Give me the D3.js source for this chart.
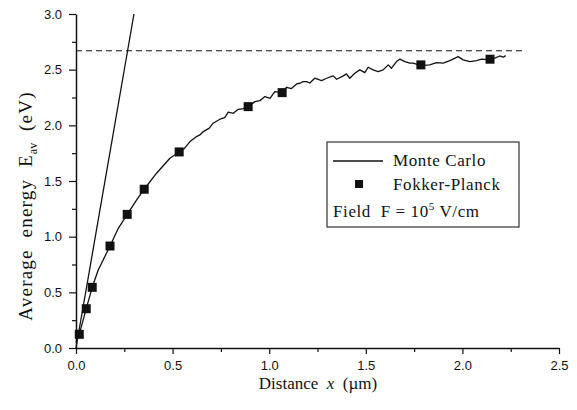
<!DOCTYPE html>
<html>
<head>
<meta charset="utf-8">
<script src="https://d3js.org/d3.v7.min.js"></script>
<style>
  body { margin: 0; background: #fff; }
  .tick text { font-family: "Liberation Sans", Arial, sans-serif; font-size: 13px; fill: #111; }
  .serif { font-family: "Liberation Serif", "Times New Roman", serif; fill: #111; white-space: pre; }
</style>
</head>
<body>
<div id="chart"></div>
<script>
  const width = 577
  const height = 410
  const margin = { left: 76, right: 18, top: 14, bottom: 62 }

  // Monte Carlo curve (x in µm, E in eV)
  const mcX = [0.0, 0.017, 0.053, 0.084, 0.115, 0.176, 0.219, 0.265, 0.314, 0.353,
    0.417, 0.486, 0.534, 0.560, 0.590, 0.624, 0.641, 0.659, 0.690, 0.710, 0.745, 0.770, 0.788, 0.814,
    0.840, 0.866, 0.891, 0.926, 0.952, 0.978, 1.004, 1.029, 1.067, 1.090, 1.115, 1.142, 1.159, 1.176,
    1.193, 1.210, 1.236, 1.271, 1.297, 1.331, 1.349, 1.383, 1.400, 1.417, 1.443, 1.469, 1.495,
    1.512, 1.538, 1.564, 1.590, 1.616, 1.633, 1.659, 1.676, 1.702, 1.728, 1.745, 1.786, 1.831,
    1.866, 1.900, 1.935, 1.978, 2.004, 2.038, 2.073, 2.099, 2.142, 2.168, 2.193, 2.211, 2.224]
  const mcY = [0.05, 0.123, 0.353, 0.545, 0.70, 0.916, 1.075, 1.20, 1.33, 1.426,
    1.57, 1.704, 1.761, 1.79, 1.854, 1.899, 1.914, 1.944, 1.975, 2.019, 2.055, 2.07, 2.118, 2.108,
    2.144, 2.15, 2.168, 2.213, 2.222, 2.258, 2.243, 2.303, 2.294, 2.342, 2.33, 2.372, 2.378, 2.393,
    2.393, 2.38, 2.423, 2.402, 2.423, 2.444, 2.414, 2.444, 2.462, 2.423, 2.468, 2.498, 2.473,
    2.522, 2.498, 2.483, 2.498, 2.543, 2.513, 2.573, 2.594, 2.573, 2.558, 2.558, 2.537, 2.543,
    2.563, 2.558, 2.582, 2.617, 2.588, 2.573, 2.582, 2.594, 2.588, 2.603, 2.623, 2.612, 2.626]

  // Fokker-Planck points
  const fpX = [0.017, 0.053, 0.084, 0.176, 0.265, 0.353, 0.534, 0.891, 1.067, 1.785, 2.143]
  const fpY = [0.123, 0.353, 0.545, 0.916, 1.20, 1.426, 1.761, 2.168, 2.294, 2.543, 2.594]

  // initial slope line and saturation level
  const slopeX = [0, 0.3]
  const slopeY = [0, 3.0]
  const satX = [0, 2.33]
  const satY = [2.67, 2.67]

  const xTicks = [0, 0.5, 1.0, 1.5, 2.0, 2.5]
  const yTicks = [0, 0.5, 1.0, 1.5, 2.0, 2.5, 3.0]
  const xMinor = [0.25, 0.75, 1.25, 1.75, 2.25]
  const yMinor = [0.25, 0.75, 1.25, 1.75, 2.25, 2.75]

  const svg = d3.select("#chart").append("svg")
    .attr("width", width).attr("height", height)

  const xScale = d3.scaleLinear().domain([0, 2.5]).range([margin.left, width - margin.right])
  const yScale = d3.scaleLinear().domain([0, 3.0]).range([height - margin.bottom, margin.top])

  // minor ticks
  svg.append("g")
    .attr("transform", "translate(0," + (height - margin.bottom) + ")")
    .call(d3.axisBottom(xScale).tickValues(xMinor).tickSize(4).tickFormat(""))
    .call(g => g.select(".domain").remove())
  svg.append("g")
    .attr("transform", "translate(" + margin.left + ",0)")
    .call(d3.axisLeft(yScale).tickValues(yMinor).tickSize(4).tickFormat(""))
    .call(g => g.select(".domain").remove())

  svg.append("g")
    .attr("transform", "translate(0," + (height - margin.bottom) + ")")
    .call(d3.axisBottom(xScale).tickValues(xTicks).tickSize(6).tickSizeOuter(0).tickPadding(7).tickFormat(d3.format(".1f")))
  svg.append("g")
    .attr("transform", "translate(" + margin.left + ",0)")
    .call(d3.axisLeft(yScale).tickValues(yTicks).tickSize(7).tickSizeOuter(0).tickPadding(7).tickFormat(d3.format(".1f")))

  svg.selectAll(".domain").attr("stroke", "#111").attr("stroke-width", 1.5)
  svg.selectAll(".tick line").attr("stroke", "#111").attr("stroke-width", 1.2)

  const line = d3.line().x(d => xScale(d[0])).y(d => yScale(d[1]))

  svg.append("path")
    .datum(satX.map((x, i) => [x, satY[i]]))
    .attr("d", line).attr("fill", "none")
    .attr("stroke", "#111").attr("stroke-width", 1.2).attr("stroke-dasharray", "6,4")

  svg.append("path")
    .datum(slopeX.map((x, i) => [x, slopeY[i]]))
    .attr("d", line).attr("fill", "none")
    .attr("stroke", "#111").attr("stroke-width", 1.3)

  svg.append("path")
    .datum(mcX.map((x, i) => [x, mcY[i]]))
    .attr("d", line).attr("fill", "none")
    .attr("stroke", "#111").attr("stroke-width", 1.3).attr("stroke-linejoin", "round")

  const sq = 9
  svg.selectAll("rect.fp")
    .data(fpX.map((x, i) => [x, fpY[i]]))
    .enter().append("rect")
    .attr("class", "fp")
    .attr("x", d => xScale(d[0]) - sq / 2)
    .attr("y", d => yScale(d[1]) - sq / 2)
    .attr("width", sq).attr("height", sq)
    .attr("fill", "#111")

  // legend
  const lg = svg.append("g").attr("transform", "translate(327,142)")
  lg.append("rect").attr("width", 192).attr("height", 85)
    .attr("fill", "#fff").attr("stroke", "#333").attr("stroke-width", 1.2)
  lg.append("line").attr("x1", 6).attr("x2", 56).attr("y1", 19).attr("y2", 19)
    .attr("stroke", "#111").attr("stroke-width", 1.3)
  lg.append("text").attr("class", "serif").attr("x", 66).attr("y", 24)
    .style("font-size", "17px").style("letter-spacing", "0.6px").text("Monte Carlo")
  lg.append("rect").attr("x", 28).attr("y", 38).attr("width", 8).attr("height", 8).attr("fill", "#111")
  lg.append("text").attr("class", "serif").attr("x", 66).attr("y", 48)
    .style("font-size", "17px").style("letter-spacing", "0.6px").text("Fokker-Planck")
  const ft = lg.append("text").attr("class", "serif").attr("x", 6).attr("y", 75)
    .style("font-size", "17px").style("letter-spacing", "0.6px")
  ft.append("tspan").text("Field  F = 10")
  ft.append("tspan").attr("dy", -7).style("font-size", "11px").text("5")
  ft.append("tspan").attr("dy", 7).text(" V/cm")

  // axis titles
  const xt = svg.append("text").attr("class", "serif")
    .attr("x", 318).attr("y", 389).attr("text-anchor", "middle")
    .style("font-size", "17px")
  xt.append("tspan").text("Distance  ")
  xt.append("tspan").style("font-style", "italic").text("x")
  xt.append("tspan").text("  (\u00b5m)")

  const yt = svg.append("text").attr("class", "serif")
    .attr("transform", "translate(32,206) rotate(-90)")
    .attr("text-anchor", "middle")
    .style("font-size", "19px").style("letter-spacing", "1.2px")
  yt.append("tspan").text("Average  energy  E")
  yt.append("tspan").attr("dy", 5).style("font-size", "12px").style("letter-spacing", "0px").text("av")
  yt.append("tspan").attr("dy", -5).text("  (eV)")
</script>
</body>
</html>
